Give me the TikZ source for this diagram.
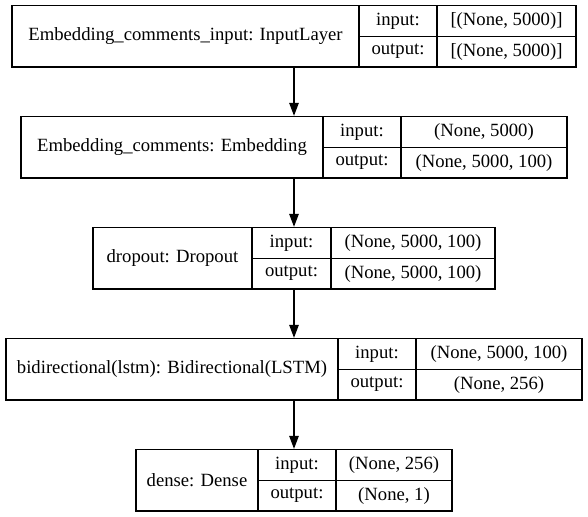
\documentclass[tikz,border=0pt]{standalone}
\usepackage{fontspec}
\setmainfont{Liberation Serif}
\usetikzlibrary{arrows.meta}
\tikzset{
  box/.style={draw=black, line width=1.33pt, inner sep=0pt, fill=white},
  cell/.style={inner sep=0pt, font=\fontsize{18.67}{22}\selectfont, text=black},
  sep/.style={draw=black, line width=1.33pt},
  arr/.style={draw=black, line width=1.33pt, -{Triangle[length=13pt,width=9.5pt]}}
}
% #1 id, #2 left, #3 div1, #4 div2, #5 right, #6 top, #7 title, #8 in, #9 out
\newcommand\kerasLayer[9]{%
  \pgfmathsetmacro\kLb{#6+61.5}%
  \pgfmathsetmacro\kLm{#6+30.75}%
  \pgfmathsetmacro\kLw{#5-#2}%
  \node[box, minimum width=\kLw pt, minimum height=61.5pt] (#1) at ({(#2+#5)/2},\kLm) {};
  \draw[sep] (#3,#6) -- (#3,\kLb);
  \draw[sep] (#4,#6) -- (#4,\kLb);
  \draw[sep] (#3,\kLm) -- (#5,\kLm);
  \node[cell] (#1-name) at ({(#2+#3)/2},\kLm) {#7};
  \node[cell] (#1-inl) at ({(#3+#4)/2},{#6+15.4}) {input:};
  \node[cell] (#1-outl) at ({(#3+#4)/2},{#6+46.1}) {output:};
  \node[cell] (#1-inv) at ({(#4+#5)/2},{#6+15.4}) {#8};
  \node[cell] (#1-outv) at ({(#4+#5)/2},{#6+46.1}) {#9};
}
\begin{document}
\begin{tikzpicture}[x=1pt,y=-1pt]
\useasboundingbox (0,0) rectangle (588,516);
\kerasLayer{b1}{12}{359}{437}{576}{5.5}{Embedding\_comments\_input: InputLayer}{[(None, 5000)]}{[(None, 5000)]}
\kerasLayer{b2}{21}{323}{401}{567}{116.5}{Embedding\_comments: Embedding}{(None, 5000)}{(None, 5000, 100)}
\kerasLayer{b3}{93}{252}{331}{495}{227.5}{dropout: Dropout}{(None, 5000, 100)}{(None, 5000, 100)}
\kerasLayer{b4}{6}{338}{416}{582}{338.5}{bidirectional(lstm): Bidirectional(LSTM)}{(None, 5000, 100)}{(None, 256)}
\kerasLayer{b5}{136}{258}{336}{452}{449.5}{dense: Dense}{(None, 256)}{(None, 1)}
\draw[arr] (b1.south) -- (b2.north);
\draw[arr] (b2.south) -- (b3.north);
\draw[arr] (b3.south) -- (b4.north);
\draw[arr] (b4.south) -- (b5.north);
\end{tikzpicture}
\end{document}
